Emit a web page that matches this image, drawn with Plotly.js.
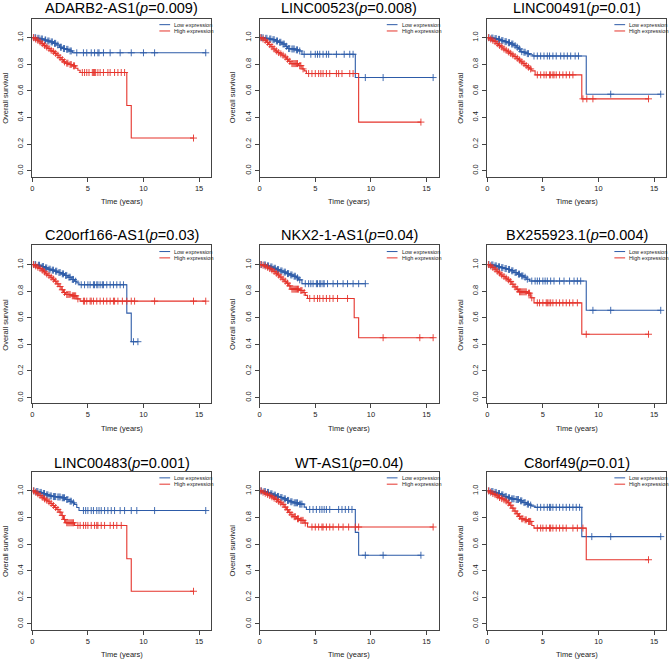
<!DOCTYPE html>
<html><head><meta charset="utf-8">
<script src="https://cdn.plot.ly/plotly-3.0.1.min.js"></script>
<style>html,body{margin:0;padding:0;background:#fff}</style>
</head><body><div id="chart" style="width:669px;height:661px"></div>
<script>
// ---- titles ----
const genes = ["ADARB2-AS1","LINC00523","LINC00491","C20orf166-AS1","NKX2-1-AS1","BX255923.1","LINC00483","WT-AS1","C8orf49"];
const pvals = ["0.009","0.008","0.01","0.03","0.04","0.004","0.001","0.04","0.01"];
const xTicks = [0,5,10,15];
const yTicks = [0,0.2,0.4,0.6,0.8,1.0];
const seriesNames = ["Low expression","High expression"];

// ---- Panel 1: ADARB2-AS1 ----
const p1_lowT = [0.35,0.7,1.05,1.3,1.6,1.9,2.2,2.45,2.7,3.0,3.3,3.6];
const p1_lowS = [0.995,0.99,0.982,0.975,0.968,0.957,0.945,0.928,0.918,0.912,0.9,0.886];
const p1_lowC = [0.15,0.3,0.5,0.6,0.8,0.9,1.15,1.2,1.4,1.5,1.7,1.8,2.0,2.1,2.3,2.55,2.6,2.8,2.9,3.1,3.2,3.4,3.5,4.0,4.6,4.9,5.3,5.6,5.9,6.0,6.4,7.0,7.9,8.9,10.0,11.0,15.6];
const p1_highT = [0.2,0.4,0.6,0.8,1.0,1.2,1.4,1.6,1.8,2.0,2.2,2.4,2.6,2.8,3.0,3.3,3.6,3.9,4.1,4.3,8.5,8.9];
const p1_highS = [0.99,0.98,0.968,0.955,0.942,0.93,0.918,0.905,0.895,0.882,0.868,0.85,0.835,0.818,0.808,0.798,0.788,0.77,0.755,0.738,0.49,0.245];
const p1_highC = [0.1,0.3,0.5,0.7,0.9,1.1,1.3,1.5,1.7,1.9,2.1,2.3,2.5,2.7,2.9,3.1,3.2,3.4,3.5,3.7,3.8,4.5,4.7,4.9,5.1,5.4,5.5,5.6,5.7,5.9,6.1,6.4,6.8,7.0,7.4,7.7,8.0,8.3,14.5];

// ---- Panel 2: LINC00523 ----
const p2_lowT = [0.4,0.8,1.1,1.4,1.7,2.0,2.3,2.5,2.8,3.2,3.5,3.8,8.6];
const p2_lowS = [0.995,0.99,0.985,0.975,0.965,0.952,0.935,0.918,0.915,0.908,0.9,0.875,0.70];
const p2_lowC = [0.15,0.3,0.55,0.65,0.9,1.0,1.2,1.3,1.5,1.6,1.8,1.9,2.1,2.2,2.4,2.6,2.7,2.9,3.0,3.1,3.3,3.4,3.6,4.0,4.6,5.0,5.2,5.4,5.7,6.0,6.2,6.9,7.6,8.1,8.4,9.5,11.1,15.6];
const p2_highT = [0.2,0.4,0.6,0.8,1.0,1.2,1.4,1.6,1.8,2.0,2.2,2.4,2.6,2.8,3.5,3.8,4.0,4.2,8.9];
const p2_highS = [0.99,0.98,0.965,0.948,0.932,0.915,0.9,0.888,0.878,0.868,0.855,0.838,0.822,0.805,0.79,0.765,0.75,0.73,0.365];
const p2_highC = [0.1,0.3,0.5,0.7,0.9,1.1,1.3,1.5,1.7,1.9,2.1,2.3,2.5,2.7,2.9,3.0,3.1,3.2,3.3,3.4,3.6,3.7,3.9,4.4,4.7,5.0,5.3,5.5,5.7,6.0,6.3,6.9,7.1,7.4,8.1,8.4,14.5];

// ---- Panel 3: LINC00491 ----
const p3_lowT = [0.3,0.6,0.9,1.2,1.5,1.8,2.1,2.4,2.6,2.8,3.0,3.2,3.5,3.8,4.1,8.9];
const p3_lowS = [0.997,0.993,0.987,0.978,0.97,0.962,0.952,0.94,0.928,0.915,0.895,0.89,0.88,0.872,0.862,0.575];
const p3_lowC = [0.15,0.4,0.5,0.7,0.8,1.0,1.1,1.3,1.4,1.6,1.7,1.9,2.0,2.2,2.3,2.5,2.7,2.9,3.1,3.3,3.4,3.6,3.7,4.2,4.5,4.8,5.1,5.4,5.6,5.9,6.2,6.6,6.9,7.2,7.5,7.9,8.2,11.1,15.6];
const p3_highT = [0.2,0.4,0.6,0.8,1.0,1.2,1.4,1.6,1.8,2.0,2.2,2.4,2.6,2.8,3.0,3.2,3.4,3.6,3.8,4.0,4.3,8.5];
const p3_highS = [0.99,0.98,0.97,0.955,0.942,0.93,0.915,0.905,0.893,0.882,0.87,0.858,0.845,0.832,0.818,0.805,0.79,0.778,0.765,0.75,0.72,0.54];
const p3_highC = [0.1,0.3,0.5,0.7,0.9,1.1,1.3,1.5,1.7,1.9,2.1,2.3,2.5,2.7,2.9,3.1,3.3,3.5,3.7,3.9,4.5,4.8,5.1,5.3,5.6,5.7,5.9,6.0,6.2,6.5,6.8,7.1,7.4,7.7,8.6,8.95,9.5,14.5];

// ---- Panel 4: C20orf166-AS1 ----
const p4_lowT = [0.4,0.8,1.1,1.4,1.7,2.0,2.3,2.6,2.9,3.2,3.5,3.8,4.0,4.2,8.5,8.9];
const p4_lowS = [0.995,0.985,0.975,0.965,0.958,0.95,0.94,0.93,0.918,0.905,0.888,0.875,0.862,0.848,0.635,0.42];
const p4_lowC = [0.15,0.3,0.55,0.65,0.9,1.0,1.2,1.3,1.5,1.6,1.8,1.9,2.1,2.2,2.4,2.5,2.7,2.8,3.0,3.1,3.3,3.4,3.6,3.7,3.9,4.4,4.7,5.0,5.2,5.5,5.6,5.8,5.9,6.1,6.3,6.4,6.7,7.0,7.3,7.6,7.9,8.2,9.1,9.5];
const p4_highT = [0.2,0.4,0.6,0.8,1.0,1.2,1.4,1.6,1.8,2.0,2.2,2.4,2.6,2.8,3.0,3.5,4.0,4.3];
const p4_highS = [0.99,0.98,0.97,0.958,0.945,0.93,0.918,0.905,0.89,0.875,0.855,0.835,0.81,0.79,0.775,0.765,0.742,0.725];
const p4_highC = [0.1,0.3,0.5,0.7,0.9,1.1,1.3,1.5,1.7,1.9,2.1,2.3,2.5,2.7,2.9,3.1,3.2,3.3,3.4,3.6,3.7,3.8,3.9,4.1,4.6,4.7,4.9,5.2,5.3,5.5,5.8,6.1,6.4,6.7,7.0,7.3,7.4,7.7,8.1,8.5,8.9,9.2,11.0,14.5,15.6];

// ---- Panel 5: NKX2-1-AS1 ----
const p5_lowT = [0.3,0.6,0.9,1.2,1.5,1.8,2.1,2.4,2.7,3.0,3.3,3.5,3.8];
const p5_lowS = [0.997,0.99,0.982,0.972,0.962,0.952,0.943,0.932,0.922,0.912,0.9,0.885,0.856];
const p5_lowC = [0.15,0.4,0.5,0.7,0.8,1.0,1.1,1.3,1.4,1.6,1.7,1.9,2.0,2.2,2.3,2.5,2.6,2.8,2.9,3.1,3.2,3.4,3.6,4.1,4.4,4.6,4.8,5.1,5.2,5.4,5.5,5.7,5.8,6.1,6.6,7.0,7.5,7.9,8.4,8.9,9.5];
const p5_highT = [0.2,0.4,0.6,0.8,1.0,1.2,1.4,1.6,1.8,2.0,2.2,2.4,2.6,2.8,3.6,3.9,4.1,4.3,8.5,8.9];
const p5_highS = [0.995,0.988,0.98,0.97,0.96,0.948,0.935,0.922,0.906,0.89,0.875,0.86,0.84,0.815,0.805,0.79,0.768,0.745,0.60,0.45];
const p5_highC = [0.1,0.3,0.5,0.7,0.9,1.1,1.3,1.5,1.7,1.9,2.1,2.3,2.5,2.7,2.9,3.0,3.1,3.2,3.3,3.4,3.5,3.7,3.8,4.0,4.5,4.9,5.2,5.4,5.7,6.0,6.3,6.6,7.0,7.9,11.1,14.4,15.6];

// ---- Panel 6: BX255923.1 ----
const p6_lowT = [0.3,0.6,0.9,1.2,1.5,1.8,2.1,2.4,2.7,3.0,3.3,3.5,3.8,8.9];
const p6_lowS = [0.997,0.99,0.983,0.977,0.97,0.963,0.953,0.94,0.928,0.915,0.905,0.89,0.876,0.656];
const p6_lowC = [0.15,0.4,0.5,0.7,0.8,1.0,1.1,1.3,1.4,1.6,1.7,1.9,2.0,2.2,2.3,2.5,2.6,2.8,2.9,3.1,3.2,3.4,3.6,4.0,4.3,4.5,4.7,5.0,5.2,5.4,5.7,6.0,6.5,6.9,7.4,7.8,8.1,8.4,9.5,11.1,15.6];
const p6_highT = [0.2,0.4,0.6,0.8,1.0,1.2,1.4,1.6,1.8,2.0,2.2,2.4,2.6,2.8,3.6,3.9,4.2,8.5];
const p6_highS = [0.99,0.978,0.965,0.95,0.937,0.922,0.91,0.898,0.885,0.872,0.852,0.832,0.815,0.795,0.785,0.75,0.712,0.476];
const p6_highC = [0.1,0.3,0.5,0.7,0.9,1.1,1.3,1.5,1.7,1.9,2.1,2.3,2.5,2.7,2.9,3.0,3.1,3.2,3.3,3.4,3.5,3.7,3.8,4.0,4.5,4.7,5.0,5.3,5.4,5.55,5.7,5.9,6.2,6.5,6.8,7.1,7.4,7.7,8.1,8.9,14.5];

// ---- Panel 7: LINC00483 ----
const p7_lowT = [0.3,0.6,0.9,1.2,1.5,1.8,2.2,2.6,3.0,3.3,3.6,3.8,4.0,4.2];
const p7_lowS = [0.995,0.988,0.98,0.97,0.962,0.957,0.954,0.948,0.935,0.922,0.91,0.898,0.875,0.852];
const p7_lowC = [0.15,0.4,0.5,0.7,0.8,1.0,1.1,1.3,1.4,1.6,1.7,1.9,2.0,2.1,2.3,2.4,2.5,2.7,2.8,2.9,3.1,3.2,3.4,3.5,3.7,4.6,4.8,5.0,5.3,5.5,5.8,6.0,6.2,6.5,6.8,7.1,7.4,7.9,8.3,8.9,9.4,11.0,15.6];
const p7_highT = [0.2,0.4,0.6,0.8,1.0,1.2,1.4,1.6,1.8,2.0,2.2,2.4,2.6,2.8,3.0,3.8,8.5,8.9];
const p7_highS = [0.99,0.978,0.965,0.952,0.94,0.93,0.918,0.905,0.89,0.875,0.86,0.84,0.815,0.785,0.76,0.74,0.49,0.245];
const p7_highC = [0.1,0.3,0.5,0.7,0.9,1.1,1.3,1.5,1.7,1.9,2.1,2.3,2.5,2.7,2.9,3.1,3.2,3.3,3.4,3.5,3.6,3.7,4.1,4.3,4.6,4.8,5.0,5.3,5.6,5.8,5.9,6.2,6.5,7.0,7.3,7.6,8.0,14.5];

// ---- Panel 8: WT-AS1 ----
const p8_lowT = [0.3,0.6,0.9,1.2,1.5,1.8,2.1,2.4,2.7,3.0,3.5,4.0,4.2,8.6,8.9];
const p8_lowS = [0.995,0.988,0.978,0.968,0.958,0.95,0.94,0.928,0.918,0.91,0.9,0.878,0.86,0.688,0.516];
const p8_lowC = [0.15,0.4,0.5,0.7,0.8,1.0,1.1,1.3,1.4,1.6,1.7,1.9,2.0,2.2,2.3,2.5,2.6,2.8,2.9,3.1,3.2,3.3,3.4,3.6,3.7,3.8,4.5,4.8,5.1,5.4,5.6,5.8,6.0,6.3,7.1,7.4,7.7,8.0,8.3,9.5,11.1,14.5];
const p8_highT = [0.2,0.4,0.6,0.8,1.0,1.2,1.4,1.6,1.8,2.0,2.2,2.4,2.6,2.8,3.0,3.3,3.6,4.0,4.3];
const p8_highS = [0.99,0.982,0.974,0.965,0.955,0.945,0.935,0.922,0.91,0.898,0.878,0.858,0.838,0.82,0.806,0.79,0.778,0.758,0.728];
const p8_highC = [0.1,0.3,0.5,0.7,0.9,1.1,1.3,1.5,1.7,1.9,2.1,2.3,2.5,2.7,2.9,3.1,3.2,3.4,3.5,3.7,3.8,3.9,4.1,4.7,5.0,5.3,5.6,5.7,6.0,6.3,6.6,7.1,7.5,8.0,8.6,8.9,15.6];

// ---- Panel 9: C8orf49 ----
const p9_lowT = [0.3,0.6,0.9,1.2,1.5,1.8,2.1,2.5,2.9,3.2,3.5,3.8,4.0,4.3,8.5];
const p9_lowS = [0.995,0.988,0.98,0.97,0.958,0.948,0.94,0.935,0.925,0.912,0.9,0.893,0.885,0.876,0.656];
const p9_lowC = [0.15,0.4,0.5,0.7,0.8,1.0,1.1,1.3,1.4,1.6,1.7,1.9,2.0,2.2,2.3,2.4,2.6,2.7,2.8,3.0,3.1,3.3,3.4,3.6,3.7,3.9,4.5,4.8,5.1,5.4,5.6,5.7,5.9,6.2,6.5,6.8,7.1,7.4,7.7,8.0,8.3,9.4,11.1,15.6];
const p9_highT = [0.2,0.4,0.6,0.8,1.0,1.2,1.4,1.6,1.8,2.0,2.2,2.4,2.6,2.8,3.0,3.3,3.6,4.0,4.2,8.9];
const p9_highS = [0.99,0.98,0.972,0.962,0.95,0.942,0.933,0.924,0.91,0.892,0.87,0.848,0.828,0.808,0.79,0.782,0.77,0.74,0.72,0.482];
const p9_highC = [0.1,0.3,0.5,0.7,0.9,1.1,1.3,1.5,1.7,1.9,2.1,2.3,2.5,2.7,2.9,3.1,3.2,3.4,3.5,3.7,3.8,3.9,4.5,4.8,5.0,5.3,5.6,5.7,5.9,6.2,6.5,6.8,7.1,7.7,8.1,8.6,14.5];

const panels = [
  [p1_lowT,p1_lowS,p1_lowC,p1_highT,p1_highS,p1_highC],
  [p2_lowT,p2_lowS,p2_lowC,p2_highT,p2_highS,p2_highC],
  [p3_lowT,p3_lowS,p3_lowC,p3_highT,p3_highS,p3_highC],
  [p4_lowT,p4_lowS,p4_lowC,p4_highT,p4_highS,p4_highC],
  [p5_lowT,p5_lowS,p5_lowC,p5_highT,p5_highS,p5_highC],
  [p6_lowT,p6_lowS,p6_lowC,p6_highT,p6_highS,p6_highC],
  [p7_lowT,p7_lowS,p7_lowC,p7_highT,p7_highS,p7_highC],
  [p8_lowT,p8_lowS,p8_lowC,p8_highT,p8_highS,p8_highC],
  [p9_lowT,p9_lowS,p9_lowC,p9_highT,p9_highS,p9_highC]
];

// ---- styling / layout geometry (pixels) ----
const W = 669, H = 661;
const colLeft = [32.3, 259.7, 487.3];
const rowTop = [18.5, 245.4, 471.7];
const boxW = 179, boxH = 158;
const titleShift = [11, 10.5, 8.5];
const colors = ["#2d5ba8", "#e5332b"];
const FONT = "Liberation Sans, Arial, sans-serif";

function survAt(T, S, t) {
  let s = 1;
  for (let i = 0; i < T.length; i++) { if (T[i] <= t) s = S[i]; }
  return s;
}

const data = [];
const layout = {
  width: W, height: H,
  margin: {l:0, r:0, t:0, b:0},
  paper_bgcolor: "#fff", plot_bgcolor: "#fff",
  showlegend: false,
  font: {family: FONT, color: "#222"},
  annotations: [], shapes: []
};

panels.forEach((pd, i) => {
  const r = Math.floor(i / 3), c = i % 3;
  const n = i + 1;
  const xa = n === 1 ? "xaxis" : "xaxis" + n;
  const ya = n === 1 ? "yaxis" : "yaxis" + n;
  const xr = n === 1 ? "x" : "x" + n;
  const yr = n === 1 ? "y" : "y" + n;
  layout[xa] = {
    domain: [colLeft[c] / W, (colLeft[c] + boxW) / W],
    anchor: yr, range: [0, 16.1], tickvals: xTicks,
    ticks: "outside", ticklen: 4, tickwidth: 1, tickcolor: "#444",
    showline: true, linecolor: "#444", linewidth: 1, mirror: true,
    showgrid: false, zeroline: false,
    tickfont: {size: 7.5, color: "#222", family: FONT}
  };
  layout[ya] = {
    domain: [1 - (rowTop[r] + boxH) / H, 1 - rowTop[r] / H],
    anchor: xr, range: [-0.044, 1.144], tickvals: yTicks, tickformat: ".1f",
    tickangle: -90, ticks: "outside", ticklen: 4, tickwidth: 1, tickcolor: "#444",
    showline: true, linecolor: "#444", linewidth: 1, mirror: true,
    showgrid: false, zeroline: false, ticklabelstandoff: 1,
    tickfont: {size: 7.5, color: "#222", family: FONT}
  };
  for (let g = 0; g < 2; g++) {
    const T = pd[g * 3], S = pd[g * 3 + 1], C = pd[g * 3 + 2];
    const end = Math.max(T[T.length - 1], C[C.length - 1]);
    const xs = [0].concat(T, [end]);
    const ys = [1].concat(S, [S[S.length - 1]]);
    data.push({
      type: "scatter", mode: "lines", x: xs, y: ys, xaxis: xr, yaxis: yr,
      line: {shape: "hv", color: colors[g], width: 1.1},
      name: seriesNames[g], hoverinfo: "skip"
    });
    data.push({
      type: "scatter", mode: "markers", x: C, y: C.map(t => survAt(T, S, t)),
      xaxis: xr, yaxis: yr,
      marker: {symbol: "cross-thin", size: 5, line: {color: colors[g], width: 0.9}, color: colors[g]},
      hoverinfo: "skip"
    });
    // legend entries
    const ly = g === 0 ? 0.961 : 0.921;
    layout.shapes.push({type: "line", xref: xr + " domain", yref: yr + " domain",
      x0: 0.71, x1: 0.77, y0: ly, y1: ly, line: {color: colors[g], width: 1}});
    layout.annotations.push({xref: xr + " domain", yref: yr + " domain", x: 0.782, y: ly,
      xanchor: "left", yanchor: "middle", showarrow: false, text: seriesNames[g],
      font: {size: 5.5, color: "#222", family: FONT}});
  }
  // title
  layout.annotations.push({xref: xr + " domain", yref: yr + " domain", x: 0.5, y: 1,
    yshift: titleShift[r], xanchor: "center", yanchor: "middle", showarrow: false,
    text: genes[i] + "(<i>p</i>=" + pvals[i] + ")",
    font: {size: 14.5, color: "#000", family: FONT}});
  // axis titles
  layout.annotations.push({xref: xr + " domain", yref: yr + " domain", x: 0.5, y: 0,
    yshift: -25, xanchor: "center", yanchor: "middle", showarrow: false,
    text: "Time (years)", font: {size: 7.5, color: "#222", family: FONT}});
  layout.annotations.push({xref: xr + " domain", yref: yr + " domain", x: 0, y: 0.5,
    xshift: -27, xanchor: "center", yanchor: "middle", showarrow: false, textangle: -90,
    text: "Overall survival", font: {size: 7.5, color: "#222", family: FONT}});
});

Plotly.newPlot("chart", data, layout, {staticPlot: true, displayModeBar: false});
</script></body></html>
